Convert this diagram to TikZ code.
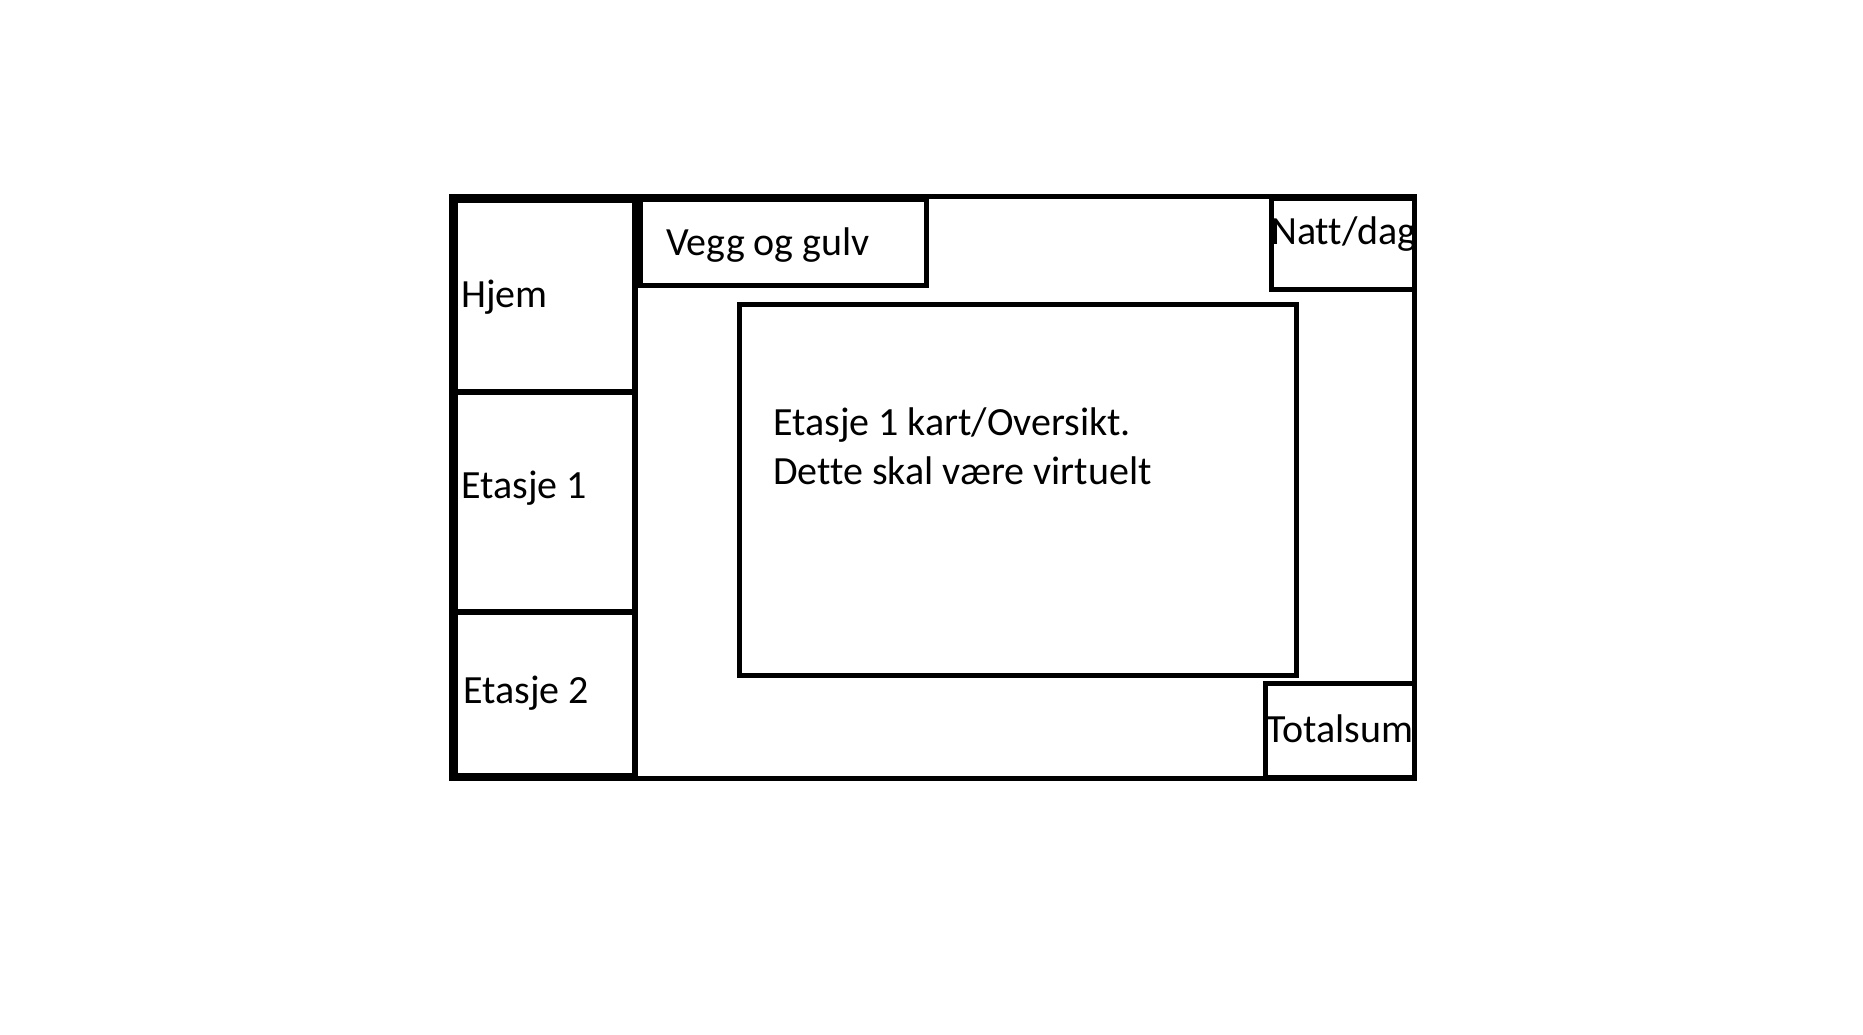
\documentclass[tikz,border=0pt]{standalone}
\usepackage{fontspec}
\setmainfont{Carlito}[Ligatures={NoCommon}]
\begin{document}
\begin{tikzpicture}[x=1pt,y=-1pt,
  box/.style={draw=black, line width=5pt, inner sep=0pt, outer sep=0pt, rectangle},
  leftbox/.style={draw=black, line width=5.5pt, inner sep=0pt, outer sep=0pt, rectangle},
  lbl/.style={inner sep=0pt, anchor=base west, font=\fontsize{40}{49}\selectfont}]
\useasboundingbox (0,0) rectangle (1863,1034);
% main frame
\draw[line width=5pt] (451,196) rectangle (1414,778);
% left column
\draw[leftbox] (455,200.5) rectangle (635,392);
\draw[leftbox] (455,392) rectangle (635,612);
\draw[leftbox] (455,612) rectangle (635,776);
% other boxes
\draw[box] (640,199) rectangle (926,285);
\draw[box] (1271,198) rectangle (1414,289);
\draw[box] (739,304) rectangle (1296,675);
\draw[box] (1265,683) rectangle (1414,777);
% labels
\node[lbl] (hjem) at (461,307) {Hjem};
\node[lbl] (et1) at (461,498) {Etasje 1};
\node[lbl] (et2) at (463,703) {Etasje 2};
\node[lbl] (vegg) at (666,255) {Vegg og gulv};
\node[lbl] (natt) at (1271,244) {Natt/dag};
\node[lbl] (total) at (1266,742) {Totalsum};
\node[lbl] (kart1) at (773,435) {Etasje 1 kart/Oversikt.};
\node[lbl] (kart2) at (773,484) {Dette skal være virtuelt};
\end{tikzpicture}
\end{document}
